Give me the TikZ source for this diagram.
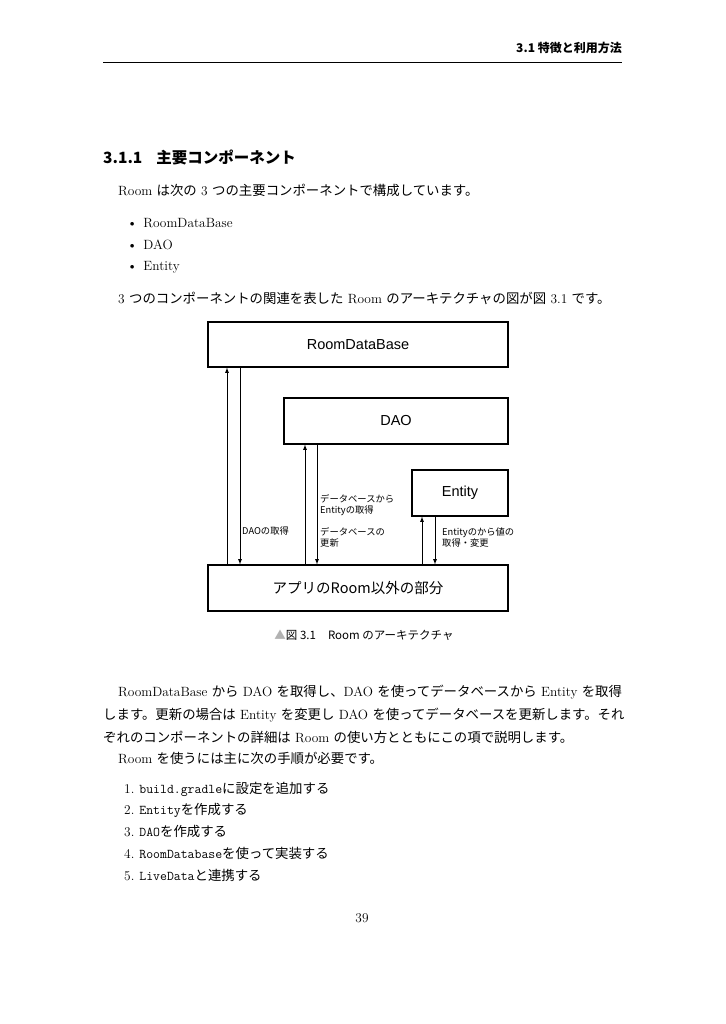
\documentclass[tikz,border=0pt]{standalone}
\usepackage{fontspec}
\newfontfamily\cjk{Noto Sans CJK JP}
\newfontfamily\hv{Liberation Sans}
\newcommand{\jj}[1]{{\cjk #1}}
\begin{document}
\begin{tikzpicture}[x=1pt,y=-1pt,
 box/.style={draw,line width=1.2pt,minimum height=0pt,inner sep=0pt},
 arr/.style={-latex,line width=0.8pt},
 body/.style={anchor=west,inner sep=0pt,font=\fontsize{13.4}{16}\selectfont},
 small/.style={anchor=north west,inner sep=0pt,align=left,font=\cjk\fontsize{9.3}{11}\selectfont}]
\useasboundingbox[fill=white] (0,0) rectangle (725,1024);
% header
\node[anchor=east,inner sep=0pt,font=\cjk\bfseries\fontsize{12}{14}\selectfont] (hdr) at (622,48) {3.1 特徴と利用方法};
\coordinate (hl) at (103,62); \coordinate (hr) at (622,62);
\draw[line width=0.5pt] (hl) -- (hr);
\node[anchor=west,inner sep=0pt,font=\cjk\bfseries\fontsize{15.5}{18}\selectfont] (sec) at (103,157) {3.1.1\hspace{14pt}主要コンポーネント};
\node[body] (p1) at (118,190) {Room \jj{は次の} 3 \jj{つの主要コンポーネントで構成しています。}};
\foreach \y/\t [count=\i] in {223/RoomDataBase,245/DAO,267/Entity}{
 \node[body] (b\i) at (127,\y) {\textbullet\hspace{6pt}\t};}
\node[body] (p2) at (118,298) {3 \jj{つのコンポーネントの関連を表した} Room \jj{のアーキテクチャの図が図} 3.1 \jj{です。}};
% diagram
\node[box,minimum width=300pt,minimum height=45pt,font=\hv\fontsize{14.5}{16}\selectfont] (rdb) at (358,344.5) {RoomDataBase};
\node[box,minimum width=224pt,minimum height=46pt,font=\hv\fontsize{14.5}{16}\selectfont] (dao) at (396,421) {DAO};
\node[box,minimum width=96pt,minimum height=46pt,font=\hv\fontsize{14.5}{16}\selectfont] (ent) at (460,493) {Entity};
\node[box,minimum width=300pt,minimum height=46pt,font=\cjk\fontsize{14.5}{16}\selectfont] (app) at (358,588) {アプリのRoom以外の部分};
\draw[arr] (app.south west -| 227,0) ++(0,-46) coordinate (a1) -- (a1 |- rdb.south);
\draw[arr] (rdb.south -| 240,0) coordinate (a2) -- (a2 |- app.north);
\draw[arr] (app.north -| 305,0) coordinate (a3) -- (a3 |- dao.south);
\draw[arr] (dao.south -| 317,0) coordinate (a4) -- (a4 |- app.north);
\draw[arr] (app.north -| 422,0) coordinate (a5) -- (a5 |- ent.south);
\draw[arr] (ent.south -| 435,0) coordinate (a6) -- (a6 |- app.north);
\node[small] (l1) at (242,527) {DAOの取得};
\node[small] (l2) at (320,494) {データベースから\\Entityの取得};
\node[small] (l3) at (320,527) {データベースの\\更新};
\node[small] (l4) at (442,527) {Entityのから値の\\取得・変更};
\node[inner sep=0pt,font=\cjk\fontsize{11.5}{13}\selectfont] (cap) at (364,635) {\textcolor{gray!60}{▲}図 3.1\hspace{12pt}Room のアーキテクチャ};
% paragraph
\node[body] (q1) at (118,692) {RoomDataBase \jj{から} DAO \jj{を取得し、}DAO \jj{を使ってデータベースから} Entity \jj{を取得}};
\node[body] (q2) at (103,715) {\jj{します。更新の場合は} Entity \jj{を変更し} DAO \jj{を使ってデータベースを更新します。それ}};
\node[body] (q3) at (103,737) {\jj{ぞれのコンポーネントの詳細は} Room \jj{の使い方とともにこの項で説明します。}};
\node[body] (q4) at (118,758) {Room \jj{を使うには主に次の手順が必要です。}};
\foreach \y/\t [count=\i] in {789/\texttt{build.gradle}\jj{に設定を追加する},810/\texttt{Entity}\jj{を作成する},831/\texttt{DAO}\jj{を作成する},853/\texttt{RoomDatabase}\jj{を使って実装する},875/\texttt{LiveData}\jj{と連携する}}{
 \node[body] (n\i) at (124,\y) {\i.\hspace{5pt}\t};}
\node[inner sep=0pt,font=\fontsize{13.4}{16}\selectfont] (pg) at (362,918) {39};
\end{tikzpicture}
\end{document}
